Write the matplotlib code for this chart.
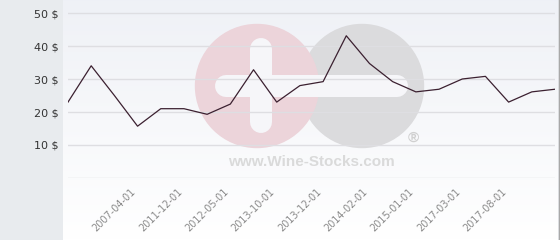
import numpy as np
import matplotlib.pyplot as plt
from matplotlib.patches import Circle

# prix par date (22 points)
prices = [23, 34, 25, 15.7, 21, 21, 19.3, 22.4, 32.8, 23, 28, 29.2,
          43.1, 34.7, 29.2, 26.1, 26.9, 30, 30.8, 23, 26.1, 26.9]
tick_idx = [3, 5, 7, 9, 11, 13, 15, 17, 19]
tick_labels = ['2007-04-01', '2011-12-01', '2012-05-01', '2013-10-01', '2013-12-01',
               '2014-02-01', '2015-01-01', '2017-03-01', '2017-08-01']
y_ticks = [0, 10, 20, 30, 40, 50]
y_labels = ['', '10 $', '20 $', '30 $', '40 $', '50 $']

W, H = 560, 240
fig = plt.figure(figsize=(5.6, 2.4), dpi=100)
fig.patch.set_facecolor('#e8ebee')

# fond degrade + filigrane, en pixels
bg = fig.add_axes([0, 0, 1, 1], zorder=0)
bg.set_xlim(0, W)
bg.set_ylim(H, 0)
bg.axis('off')
grad = np.linspace(0, 1, 240)[:, None]
top = np.array([0.937, 0.945, 0.965])
bot = np.array([1.0, 1.0, 1.0])
img = top[None, None, :] * (1 - grad[:, :, None]) + bot[None, None, :] * grad[:, :, None]
bg.imshow(img, extent=[63, 558, 240, 0], aspect='auto', zorder=0)
bg.plot([558.5, 558.5], [0, 240], color='#a8a8a8', lw=1, zorder=1)

bg.add_patch(Circle((362, 86), 61.5, color='#dbdbdd', zorder=2))
bg.add_patch(Circle((257, 86), 61.5, color='#ecd4da', zorder=3))
bar_w = 22 * 72 / 100
bg.plot([261, 261], [49, 122], color='#f6f6f9', lw=bar_w,
        solid_capstyle='round', zorder=4)
bg.plot([226, 397], [85.5, 85.5], color='#f6f6f9', lw=bar_w,
        solid_capstyle='round', zorder=4)
bg.text(311, 162, 'www.Wine-Stocks.com', family='Liberation Sans', weight='bold',
        fontsize=11, color='#dadada', ha='center', va='center', zorder=4)
bg.text(413, 138, '®', family='Liberation Sans', weight='bold',
        fontsize=11, color='#d0d0d0', ha='center', va='center', zorder=4)

# graphique
ax = fig.add_axes([68 / W, 1 - 178 / H, (555 - 68) / W, 178 / H], zorder=1)
ax.patch.set_alpha(0)
x = np.arange(len(prices))
ax.plot(x, prices, color='#3b2030', lw=0.9, zorder=3)
ax.set_xlim(0, len(prices) - 1)
ax.set_ylim(0, 178 / 3.3)
ax.set_yticks(y_ticks)
ax.set_yticklabels(y_labels, fontsize=8, color='#333333')
ax.set_xticks(tick_idx)
ax.set_xticklabels(tick_labels, fontsize=7, color='#8a8a8a', rotation=45,
                   ha='right', va='top')
ax.tick_params(axis='both', length=0)
ax.tick_params(axis='y', pad=7)
ax.tick_params(axis='x', pad=6)
ax.grid(axis='y', color='#dedee2', lw=1)
ax.grid(axis='x', visible=False)
for s in ax.spines.values():
    s.set_visible(False)

fig.savefig('out.png', dpi=100)
